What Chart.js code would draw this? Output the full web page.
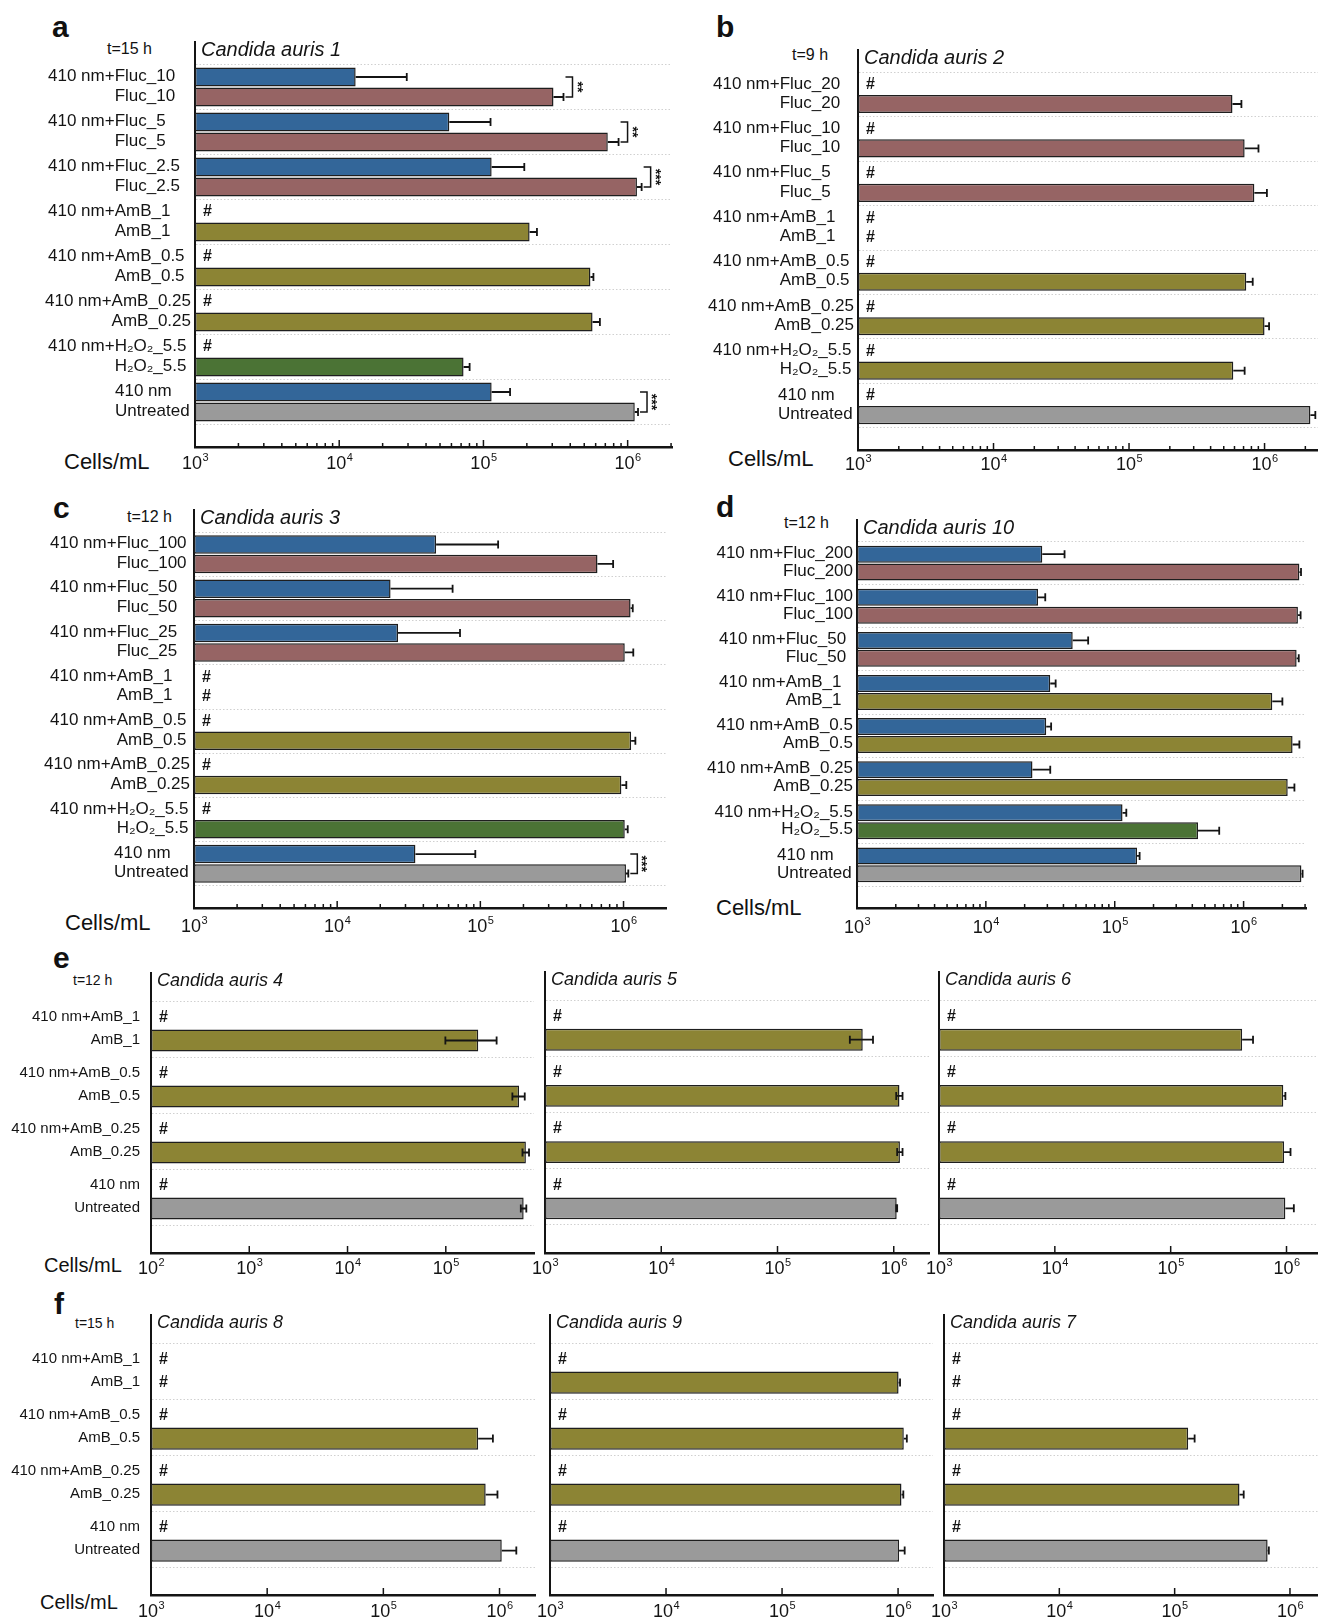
<!DOCTYPE html>
<html>
<head>
<meta charset="utf-8">
<title>Candida auris cell counts</title>
<script src="https://cdn.jsdelivr.net/npm/chart.js@4.4.1/dist/chart.umd.min.js"></script>
<style>
  body { margin: 0; width: 1318px; height: 1619px; position: relative; overflow: hidden; background: #fff;
         font-family: "Liberation Sans", Arial, sans-serif; color: #111; }
  .box { position: absolute; }
  .txt { position: absolute; white-space: nowrap; line-height: 1; }
  .letter { font-weight: bold; font-size: 30px; }
  .time { font-size: 16px; }
  .time.small { font-size: 14px; }
  .unit { font-size: 22px; }
  .unit.small { font-size: 20px; }
</style>
</head>
<body>
<div class="txt letter" style="left:52px;top:12px">a</div>
<div class="txt letter" style="left:716px;top:12px">b</div>
<div class="txt letter" style="left:53px;top:493px">c</div>
<div class="txt letter" style="left:716px;top:492px">d</div>
<div class="txt letter" style="left:53px;top:943px">e</div>
<div class="txt letter" style="left:54px;top:1289px">f</div>

<div class="txt time" style="left:107px;top:41px">t=15 h</div>
<div class="txt time" style="left:792px;top:47px">t=9 h</div>
<div class="txt time" style="left:127px;top:509px">t=12 h</div>
<div class="txt time" style="left:784px;top:515px">t=12 h</div>
<div class="txt time small" style="left:73px;top:973px">t=12 h</div>
<div class="txt time small" style="left:75px;top:1316px">t=15 h</div>

<div class="txt unit" style="left:64px;top:451px">Cells/mL</div>
<div class="txt unit" style="left:728px;top:448px">Cells/mL</div>
<div class="txt unit" style="left:65px;top:912px">Cells/mL</div>
<div class="txt unit" style="left:716px;top:897px">Cells/mL</div>
<div class="txt unit small" style="left:44px;top:1255px">Cells/mL</div>
<div class="txt unit small" style="left:40px;top:1592px">Cells/mL</div>

<script>
// === Panel a: Candida auris 1 (t=15 h) ===
const groupsA = ["Fluc_10", "Fluc_5", "Fluc_2.5", "AmB_1", "AmB_0.5", "AmB_0.25", "H₂O₂_5.5", "Untreated"];
const kindsA = ["Fluc", "Fluc", "Fluc", "AmB", "AmB", "AmB", "H2O2", "Ctrl"];
const lightA = [13000, 58000, 114000, null, null, null, null, 114000];
const lightErrA = [16400, 54000, 78000, 0, 0, 0, 0, 39000];
const darkA = [306000, 728000, 1160000, 209000, 552000, 571000, 72800, 1120000];
const darkErrA = [53000, 137000, 90000, 26000, 27000, 71000, 7400, 60000];
const sigA = ["**", "**", "***", "", "", "", "", "***"];
const ticksA = [3, 4, 5, 6];

// === Panel b: Candida auris 2 (t=9 h) ===
const groupsB = ["Fluc_20", "Fluc_10", "Fluc_5", "AmB_1", "AmB_0.5", "AmB_0.25", "H₂O₂_5.5", "Untreated"];
const kindsB = ["Fluc", "Fluc", "Fluc", "AmB", "AmB", "AmB", "H2O2", "Ctrl"];
const lightB = [null, null, null, null, null, null, null, null];
const lightErrB = [0, 0, 0, 0, 0, 0, 0, 0];
const darkB = [580000, 713000, 841000, null, 733000, 1000000, 588000, 2180000];
const darkErrB = [95000, 189000, 200000, 0, 85000, 80000, 125000, 190000];
const ticksB = [3, 4, 5, 6];

// === Panel c: Candida auris 3 (t=12 h) ===
const groupsC = ["Fluc_100", "Fluc_50", "Fluc_25", "AmB_1", "AmB_0.5", "AmB_0.25", "H₂O₂_5.5", "Untreated"];
const kindsC = ["Fluc", "Fluc", "Fluc", "AmB", "AmB", "AmB", "H2O2", "Ctrl"];
const lightC = [49100, 23600, 26600, null, null, null, null, 35200];
const lightErrC = [84000, 40400, 45500, 0, 0, 0, 0, 57000];
const darkC = [658000, 1120000, 1020000, null, 1130000, 966000, 1020000, 1040000];
const darkErrC = [188000, 40000, 150000, 0, 80000, 80000, 50000, 40000];
const sigC = ["", "", "", "", "", "", "", "***"];
const ticksC = [3, 4, 5, 6];

// === Panel d: Candida auris 10 (t=12 h) ===
const groupsD = ["Fluc_200", "Fluc_100", "Fluc_50", "AmB_1", "AmB_0.5", "AmB_0.25", "H₂O₂_5.5", "Untreated"];
const kindsD = ["Fluc", "Fluc", "Fluc", "AmB", "AmB", "AmB", "H2O2", "Ctrl"];
const lightD = [27400, 25400, 47200, 31600, 29400, 23000, 115000, 149000];
const lightErrD = [13400, 3500, 15000, 3200, 2700, 8600, 8000, 7000];
const darkD = [2710000, 2640000, 2580000, 1670000, 2400000, 2200000, 443000, 2810000];
const darkErrD = [80000, 130000, 100000, 330000, 310000, 280000, 204000, 60000];
const ticksD = [3, 4, 5, 6];

// === Panels e and f: AmB series only ===
const groupsEF = ["AmB_1", "AmB_0.5", "AmB_0.25", "Untreated"];
const kindsEF = ["AmB", "AmB", "AmB", "Ctrl"];
const lightEF = [null, null, null, null];
const lightErrEF = [0, 0, 0, 0];

const darkE4 = [214000, 556000, 653000, 620000];
const darkErrE4 = [115000, 80000, 50000, 40000];
const ticksE4 = [2, 3, 4, 5];
const darkE5 = [541000, 1120000, 1130000, 1060000];
const darkErrE5 = [122000, 70000, 60000, 10000];
const darkE6 = [414000, 938000, 953000, 977000];
const darkErrE6 = [100000, 40000, 130000, 180000];

const darkF8 = [null, 655000, 760000, 1045000];
const darkErrF8 = [0, 222000, 200000, 350000];
const darkF9 = [1010000, 1120000, 1070000, 1020000];
const darkErrF9 = [30000, 70000, 40000, 120000];
const darkF7 = [null, 131000, 365000, 640000];
const darkErrF7 = [0, 18000, 32000, 16000];
const ticksEF = [3, 4, 5, 6];

// === Colours ===
const BLUE = "#336699";
const OLIVE = "#8c8434";
const palette = { Fluc: "#966464", AmB: OLIVE, H2O2: "#4b7335", Ctrl: "#9a9a9a" };
const INK = "#141414";
const FONT = '"Liberation Sans", Arial, sans-serif';

const topLabel = (g) => (g === "Untreated" ? "410 nm" : "410 nm+" + g);

// === Layout of every sub chart (page pixels) ===
const charts = [
  { title: "Candida auris 1", groups: groupsA, kinds: kindsA, light: lightA, lightErr: lightErrA, dark: darkA, darkErr: darkErrA, sig: sigA, ticks: ticksA,
    box: [0, 0, 680, 480], area: [195, 42, 672, 447], xMin: 1e3, xMax: 2.03e6, minor: true, catPct: 0.89, labels: "pair", labelLeft: -147, tickDy: 15, titleSize: 20 },
  { title: "Candida auris 2", groups: groupsB, kinds: kindsB, light: lightB, lightErr: lightErrB, dark: darkB, darkErr: darkErrB, ticks: ticksB,
    box: [680, 0, 638, 480], area: [858, 50, 1318, 450], xMin: 1e3, xMax: 2.48e6, minor: true, catPct: 0.86, labels: "pair", labelLeft: -145, tickDy: 13, titleSize: 20,
    colours: { H2O2: OLIVE } },
  { title: "Candida auris 3", groups: groupsC, kinds: kindsC, light: lightC, lightErr: lightErrC, dark: darkC, darkErr: darkErrC, sig: sigC, ticks: ticksC,
    box: [0, 480, 680, 460], area: [194, 510, 666, 908], xMin: 1e3, xMax: 1.98e6, minor: true, catPct: 0.88, labels: "pair", labelLeft: -144, tickDy: 17, titleSize: 20 },
  { title: "Candida auris 10", groups: groupsD, kinds: kindsD, light: lightD, lightErr: lightErrD, dark: darkD, darkErr: darkErrD, ticks: ticksD,
    box: [680, 480, 638, 460], area: [857, 520, 1306, 908], xMin: 1e3, xMax: 3.05e6, minor: true, catPct: 0.83, labels: "pair", labelLeft: -138, tickDy: 18, titleSize: 20 },
  { title: "Candida auris 4", groups: groupsEF, kinds: kindsEF, light: lightEF, lightErr: lightErrEF, dark: darkE4, darkErr: darkErrE4, ticks: ticksE4,
    box: [0, 940, 580, 340], area: [151, 973, 534, 1253], xMin: 1e2, xMax: 7.9e5, minor: false, catPct: 0.82, labels: "right", twoSided: true, tickDy: 14, titleSize: 18 },
  { title: "Candida auris 5", groups: groupsEF, kinds: kindsEF, light: lightEF, lightErr: lightErrEF, dark: darkE5, darkErr: darkErrE5, ticks: ticksEF,
    box: [505, 940, 470, 340], area: [545, 972, 929, 1253], xMin: 1e3, xMax: 2.01e6, minor: false, catPct: 0.82, twoSided: true, tickDy: 14, titleSize: 18 },
  { title: "Candida auris 6", groups: groupsEF, kinds: kindsEF, light: lightEF, lightErr: lightErrEF, dark: darkE6, darkErr: darkErrE6, ticks: ticksEF,
    box: [899, 940, 419, 340], area: [939, 972, 1318, 1253], xMin: 1e3, xMax: 1.87e6, minor: false, catPct: 0.82, tickDy: 14, titleSize: 18 },
  { title: "Candida auris 8", groups: groupsEF, kinds: kindsEF, light: lightEF, lightErr: lightErrEF, dark: darkF8, darkErr: darkErrF8, ticks: ticksEF,
    box: [0, 1290, 580, 329], area: [151, 1315, 535, 1595], xMin: 1e3, xMax: 2.02e6, minor: false, catPct: 0.83, labels: "right", tickDy: 15, titleSize: 18 },
  { title: "Candida auris 9", groups: groupsEF, kinds: kindsEF, light: lightEF, lightErr: lightErrEF, dark: darkF9, darkErr: darkErrF9, ticks: ticksEF,
    box: [510, 1290, 470, 329], area: [550, 1315, 933, 1595], xMin: 1e3, xMax: 2.0e6, minor: false, catPct: 0.83, tickDy: 15, titleSize: 18 },
  { title: "Candida auris 7", groups: groupsEF, kinds: kindsEF, light: lightEF, lightErr: lightErrEF, dark: darkF7, darkErr: darkErrF7, ticks: ticksEF,
    box: [904, 1290, 414, 329], area: [944, 1315, 1318, 1595], xMin: 1e3, xMax: 1.75e6, minor: false, catPct: 0.83, tickDy: 15, titleSize: 18 },
];

// === Plugin: error bars, #, brackets, labels, axis ticks ===
function decorations(cfg) {
  return {
    id: "decorations",
    afterDatasetsDraw(chart) {
      const { ctx, chartArea: area, scales: { x, y } } = chart;
      const unit = Math.abs(y.getPixelForValue(1) - y.getPixelForValue(0));
      const quarter = (unit * cfg.catPct) / 4;
      const rowY = (i, k) => y.getPixelForValue(i) + (k === 0 ? -quarter : quarter);
      const series = [[cfg.light, cfg.lightErr], [cfg.dark, cfg.darkErr]];

      ctx.save();
      ctx.strokeStyle = INK;
      ctx.fillStyle = INK;

      // error bars
      ctx.lineWidth = 1.8;
      series.forEach(([vals, errs], k) => {
        vals.forEach((v, i) => {
          if (v === null || !errs[i]) return;
          const yy = rowY(i, k);
          const x0 = x.getPixelForValue(cfg.twoSided ? v - errs[i] : v);
          const x1 = x.getPixelForValue(v + errs[i]);
          ctx.beginPath();
          ctx.moveTo(x0, yy);
          ctx.lineTo(x1, yy);
          ctx.moveTo(x1, yy - 4);
          ctx.lineTo(x1, yy + 4);
          if (cfg.twoSided) {
            ctx.moveTo(x0, yy - 4);
            ctx.lineTo(x0, yy + 4);
          }
          ctx.stroke();
        });
      });

      // "#" where no cells were counted
      ctx.font = "bold 16px " + FONT;
      ctx.textAlign = "left";
      ctx.textBaseline = "middle";
      series.forEach(([vals], k) => {
        vals.forEach((v, i) => {
          if (v === null) ctx.fillText("#", area.left + 8, rowY(i, k));
        });
      });

      // significance brackets
      (cfg.sig || []).forEach((s, i) => {
        if (!s) return;
        const ends = series.map(([vals, errs]) =>
          vals[i] === null ? area.left : x.getPixelForValue(vals[i] + errs[i]));
        const bx = Math.max(...ends) + 9;
        const y0 = rowY(i, 0), y1 = rowY(i, 1);
        ctx.lineWidth = 1.5;
        ctx.beginPath();
        ctx.moveTo(bx - 7, y0);
        ctx.lineTo(bx, y0);
        ctx.lineTo(bx, y1);
        ctx.lineTo(bx - 7, y1);
        ctx.stroke();
        ctx.save();
        ctx.translate(bx + 4, (y0 + y1) / 2);
        ctx.rotate(Math.PI / 2);
        ctx.font = "bold 14px " + FONT;
        ctx.textAlign = "center";
        ctx.textBaseline = "middle";
        ctx.fillText(s, 0, 0);
        ctx.restore();
      });

      // strain title
      ctx.font = "italic " + cfg.titleSize + "px " + FONT;
      ctx.textAlign = "left";
      ctx.textBaseline = "middle";
      ctx.fillText(cfg.title, area.left + 6, area.top + 8);

      // row labels
      if (cfg.labels === "pair") {
        ctx.font = "17px " + FONT;
        cfg.groups.forEach((g, i) => {
          const t = topLabel(g);
          const ty = rowY(i, 0) - 1, by = rowY(i, 1) - 1;
          if (g === "Untreated") {
            ctx.textAlign = "left";
            ctx.fillText(t, area.left - 80, ty);
            ctx.fillText(g, area.left - 80, by);
          } else {
            const w = ctx.measureText(t).width;
            const left = Math.min(area.left + cfg.labelLeft, area.left - 4 - w);
            ctx.textAlign = "left";
            ctx.fillText(t, left, ty);
            ctx.textAlign = "right";
            ctx.fillText(g, left + w, by);
          }
        });
      } else if (cfg.labels === "right") {
        ctx.font = "15px " + FONT;
        ctx.textAlign = "right";
        cfg.groups.forEach((g, i) => {
          ctx.fillText(topLabel(g), area.left - 11, rowY(i, 0) - 1);
          ctx.fillText(g, area.left - 11, rowY(i, 1) - 1);
        });
      }

      // inward log tick marks
      const ay = area.bottom;
      ctx.lineWidth = 1.5;
      const eLo = Math.floor(Math.log10(cfg.xMin)), eHi = Math.floor(Math.log10(cfg.xMax));
      for (let e = eLo; e <= eHi; e++) {
        for (let m = 1; m <= 9; m++) {
          const v = m * Math.pow(10, e);
          if (v <= cfg.xMin || v >= cfg.xMax * 0.995) continue;
          if (m > 1 && !cfg.minor) continue;
          const px = x.getPixelForValue(v);
          ctx.beginPath();
          ctx.moveTo(px, ay);
          ctx.lineTo(px, ay - (m === 1 ? 7 : 4));
          ctx.stroke();
        }
      }

      // tick labels 10^n
      const base = ay + cfg.tickDy + 6.5;
      ctx.textAlign = "left";
      ctx.textBaseline = "alphabetic";
      cfg.ticks.forEach((e) => {
        const px = x.getPixelForValue(Math.pow(10, e));
        ctx.font = "18px " + FONT;
        const w1 = ctx.measureText("10").width;
        ctx.font = "11px " + FONT;
        const w2 = ctx.measureText(String(e)).width;
        const start = px - (w1 + w2) / 2;
        ctx.font = "18px " + FONT;
        ctx.fillText("10", start, base);
        ctx.font = "11px " + FONT;
        ctx.fillText(String(e), start + w1 + 0.5, base - 8);
      });

      ctx.restore();
    },
  };
}

// === Build one horizontal bar chart ===
function build(cfg) {
  const [bx, by, bw, bh] = cfg.box;
  const [al, at, ar, ab] = cfg.area;
  const wrap = document.createElement("div");
  wrap.className = "box";
  wrap.style.left = bx + "px";
  wrap.style.top = by + "px";
  wrap.style.width = bw + "px";
  wrap.style.height = bh + "px";
  const canvas = document.createElement("canvas");
  canvas.width = bw;
  canvas.height = bh;
  canvas.style.width = bw + "px";
  canvas.style.height = bh + "px";
  wrap.appendChild(canvas);
  document.body.appendChild(wrap);

  const colours = Object.assign({}, palette, cfg.colours || {});
  const toPoints = (vals, colourOf) => {
    const pts = [], cols = [];
    vals.forEach((v, i) => {
      if (v !== null) {
        pts.push({ x: v, y: i });
        cols.push(colourOf(i));
      }
    });
    return { pts, cols };
  };
  const lit = toPoints(cfg.light, () => BLUE);
  const dark = toPoints(cfg.dark, (i) => colours[cfg.kinds[i]]);
  const common = {
    borderColor: "#1e1e1e",
    borderWidth: 1.5,
    borderSkipped: false,
    categoryPercentage: cfg.catPct,
    barPercentage: 0.95,
  };
  const n = cfg.groups.length;

  new Chart(canvas, {
    type: "bar",
    data: {
      datasets: [
        Object.assign({ label: "410 nm", data: lit.pts, backgroundColor: lit.cols }, common),
        Object.assign({ label: "no light", data: dark.pts, backgroundColor: dark.cols }, common),
      ],
    },
    options: {
      indexAxis: "y",
      responsive: false,
      animation: false,
      devicePixelRatio: 1,
      events: [],
      layout: { padding: { left: al - bx, top: at - by, right: bx + bw - ar, bottom: by + bh - ab } },
      plugins: { legend: { display: false }, tooltip: { enabled: false } },
      scales: {
        x: {
          type: "logarithmic",
          position: "bottom",
          min: cfg.xMin,
          max: cfg.xMax,
          grid: { display: false },
          ticks: { display: false },
          border: { display: true, color: INK, width: 2.5 },
          afterFit: (s) => { s.height = 0; },
        },
        y: {
          type: "linear",
          position: "left",
          reverse: true,
          offset: false,
          min: -1,
          max: n,
          ticks: { display: false, stepSize: 1 },
          grid: { color: "#d0d0d0", lineWidth: 1, drawTicks: false, offset: false },
          border: { display: true, color: INK, width: 2, dash: [1.5, 2] },
          afterBuildTicks: (s) => {
            s.ticks = Array.from({ length: n + 1 }, (_, i) => ({ value: i - 0.5 }));
          },
          afterFit: (s) => { s.width = 0; },
        },
      },
    },
    plugins: [decorations(cfg)],
  });
}

charts.forEach(build);
</script>
</body>
</html>
